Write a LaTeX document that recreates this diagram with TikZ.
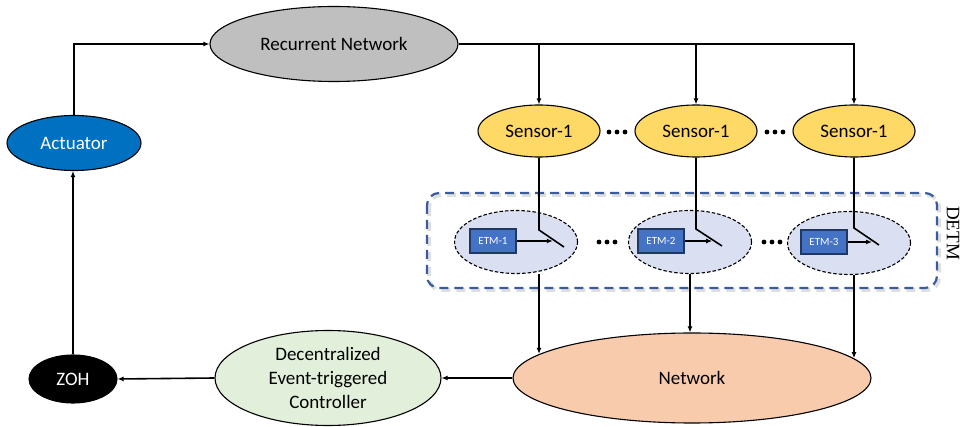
\documentclass[tikz,border=0pt]{standalone}
\usepackage{fontspec}
\setmainfont{Carlito}
\newfontfamily\timesf{Liberation Serif}
\usetikzlibrary{shapes.geometric,arrows.meta,calc}
\definecolor{rngray}{HTML}{BFBFBF}
\definecolor{actblue}{HTML}{0070C0}
\definecolor{sensy}{HTML}{FFD966}
\definecolor{etmell}{HTML}{DAE0F2}
\definecolor{etmbox}{HTML}{4472C4}
\definecolor{etmedge}{HTML}{1F3864}
\definecolor{ctrlg}{HTML}{E2EFDA}
\definecolor{netor}{HTML}{F8CBAD}
\definecolor{detmblue}{HTML}{3A5C9C}
\begin{document}
\begin{tikzpicture}[x=1pt,y=-1pt,
  ell/.style={ellipse,draw=black,line width=1.1pt,inner sep=0pt,
    font=\fontsize{19}{24}\selectfont,align=center},
  etmell/.style={ellipse,draw=black,dash pattern=on 3.5pt off 2pt,line width=1.1pt,
    fill=etmell,inner sep=0pt,minimum width=123pt,minimum height=63pt},
  etmbx/.style={rectangle,draw=etmedge,line width=1.2pt,fill=etmbox,text=white,
    minimum width=46pt,minimum height=24pt,inner sep=0pt,
    font=\fontsize{11}{12}\selectfont},
  ln/.style={line width=1.6pt,black},
  arr/.style={ln,-{Latex[length=6pt,width=5pt]}},
  detmbox/.style={draw=detmblue,line width=2.2pt,dash pattern=on 9pt off 6pt,rounded corners=12pt}
]
\useasboundingbox (0,0) rectangle (962,427);

% DETM container
\draw[gray!25,line width=4pt,dash pattern=on 9pt off 6pt,rounded corners=12pt] (429,195) rectangle (939,290);
\draw[detmbox] (427,193) rectangle (937,288);
\node[rotate=-90,font=\timesf\fontsize{19}{20}\selectfont] (detmlabel) at (953,233) {DETM};

% main nodes
\node[ell,fill=rngray,minimum width=248pt,minimum height=75pt] (rn) at (334,44) {Recurrent Network};
\node[ell,fill=actblue,text=white,minimum width=134pt,minimum height=55pt] (act) at (74,143) {Actuator};
\node[ell,fill=black,text=white,minimum width=88pt,minimum height=48pt] (zoh) at (73,379) {ZOH};
\node[ell,fill=ctrlg,minimum width=226pt,minimum height=95pt] (ctrl) at (328,378) {Decentralized\\Event-triggered\\Controller};
\node[ell,fill=netor,minimum width=358pt,minimum height=90pt] (net) at (692,378) {Network};

% sensors
\node[ell,fill=sensy,minimum width=122pt,minimum height=52pt] (s1) at (539,131) {Sensor-1};
\node[ell,fill=sensy,minimum width=122pt,minimum height=52pt] (s2) at (696,131) {Sensor-1};
\node[ell,fill=sensy,minimum width=122pt,minimum height=52pt] (s3) at (854,131) {Sensor-1};

% ETM ellipses and boxes
\node[etmell] (e1) at (516,242) {};
\node[etmell] (e2) at (690,242) {};
\node[etmell] (e3) at (849,243) {};
\node[etmbx] (b1) at (493,241) {ETM-1};
\node[etmbx] (b2) at (661,241) {ETM-2};
\node[etmbx] (b3) at (824,242) {ETM-3};

% dots
\foreach \cx/\cy in {617/132,775/132,607/242,772/242}{
  \foreach \dd in {-8,0,8}{\fill (\cx+\dd,\cy) circle (2.4pt);}
}

% top connections
\draw[arr] (act.north) |- (rn.west);
\draw[arr] (rn.east) -| (s3.north);
\draw[arr] (rn.east -| s1.north) -- (s1.north);
\draw[arr] (rn.east -| s2.north) -- (s2.north);

% switches
\coordinate (p1) at (s1.south |- 0,230);
\coordinate (q1) at ($(p1)+(25,17)$);
\coordinate (t1) at ($(p1)!0.55!(q1)$);
\coordinate (p2) at (s2.south |- 0,229);
\coordinate (q2) at ($(p2)+(26,17)$);
\coordinate (t2) at ($(p2)!0.62!(q2)$);
\coordinate (p3) at (s3.south |- 0,228);
\coordinate (q3) at ($(p3)+(25,17)$);
\coordinate (t3) at ($(p3)!0.72!(q3)$);
\draw[ln] (s1.south) -- (p1) -- (q1);
\draw[ln] (s2.south) -- (p2) -- (q2);
\draw[ln] (s3.south) -- (p3) -- (q3);
\draw[arr] (b1.east) -- (b1.east -| t1);
\draw[arr] (b2.east) -- (b2.east -| t2);
\draw[arr] (b3.east) -- (b3.east -| t3);

% to network
\draw[arr] (s1.south |- e1.south) -- (s1.south |- net.171);
\draw[arr] (e2.south) -- (e2.south |- net.north);
\draw[arr] (s3.south |- e3.south) -- (s3.south |- net.7);

% bottom connections
\draw[arr] (net.west) -- (ctrl.east);
\draw[arr] (ctrl.west) -- (zoh.east);
\draw[arr] (zoh.north) -- (zoh.north |- act.south);
\end{tikzpicture}
\end{document}
